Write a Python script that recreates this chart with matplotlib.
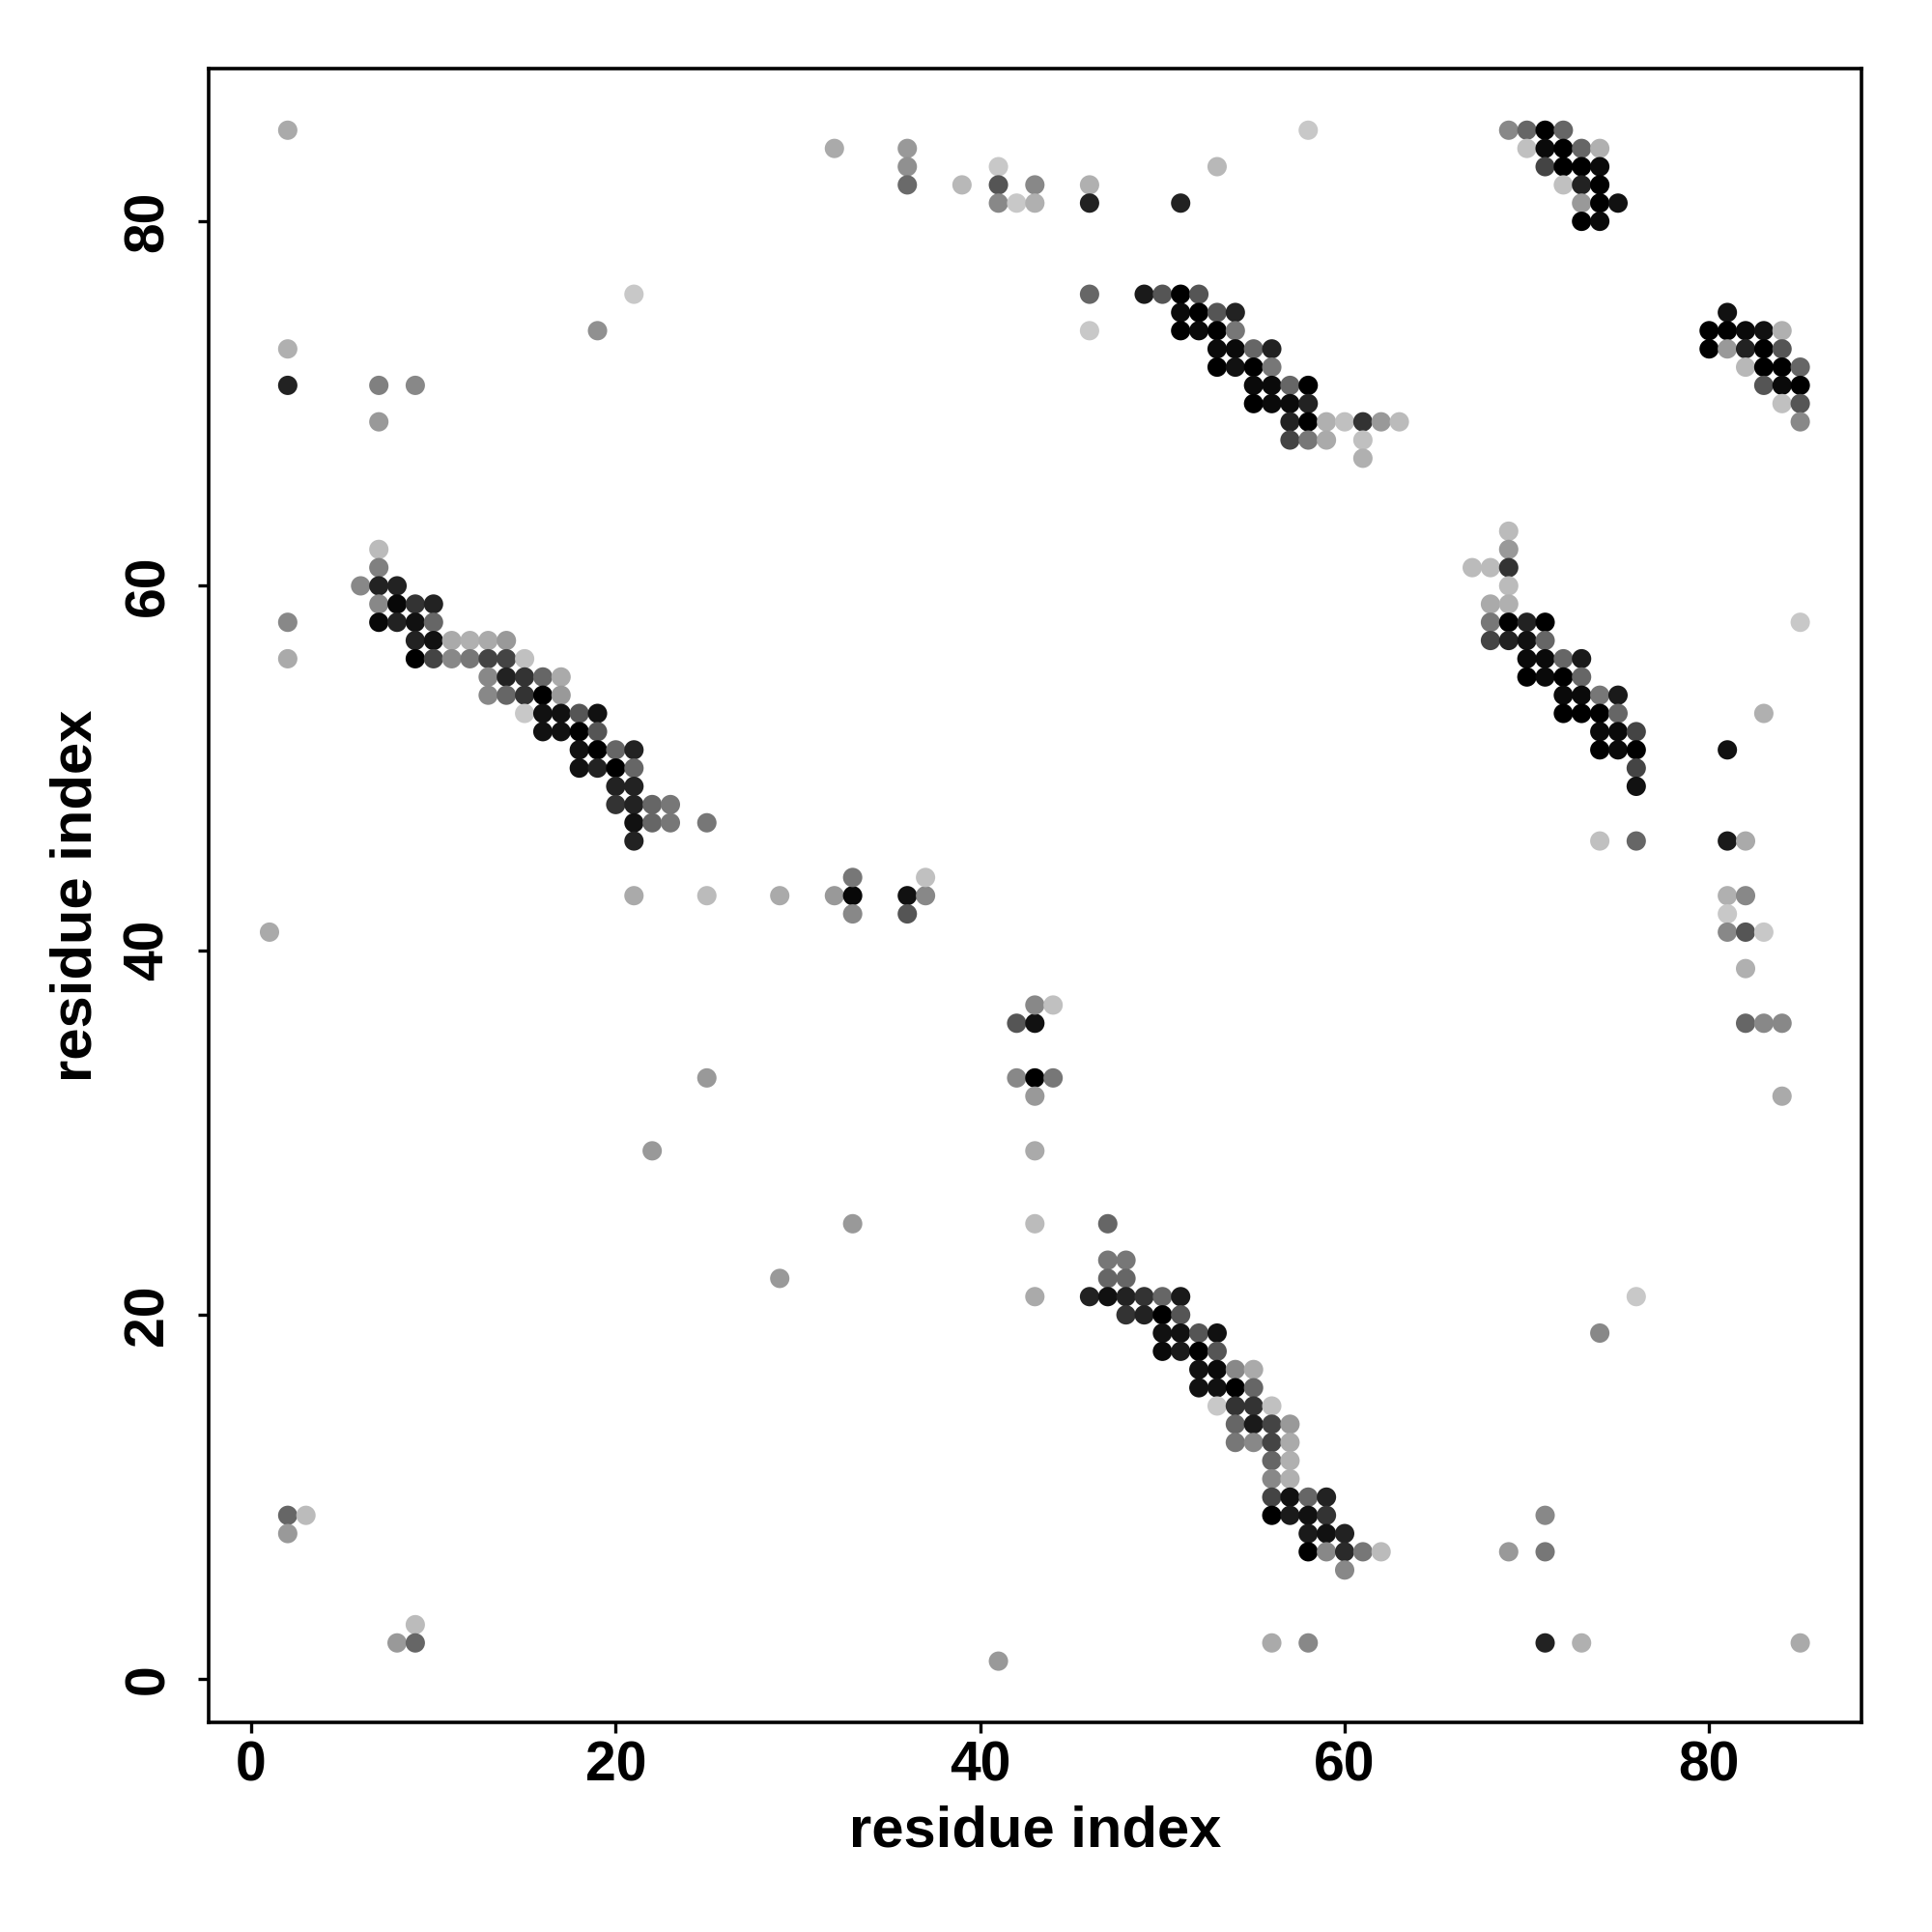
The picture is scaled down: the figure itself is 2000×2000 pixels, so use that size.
import matplotlib
matplotlib.use("Agg")
import matplotlib.pyplot as plt

# contactos: residuo i (eje x), residuo j (eje y), tono de gris (0 = negro, 255 = blanco)
res_i = [
    2, 2, 2, 7, 9, 7, 19, 21, 7, 7, 6, 7, 8, 7, 8, 9, 10,
    2, 7, 8, 9, 10, 9, 10, 11, 12, 13, 14,
    2, 9, 10, 11, 12, 13, 14, 15, 13, 14, 15, 16, 17,
    13, 14, 15, 16, 17, 15, 16, 17, 18, 19, 16, 17, 18, 19,
    18, 19, 20, 21, 18, 19, 20, 21, 20, 21, 20, 21, 22, 23,
    21, 22, 23, 25, 21, 1,
    21, 25, 29, 32, 33, 36, 37, 33, 37, 33, 36,
    42, 43, 43, 44, 42, 43, 44, 43, 25, 22, 43,
    33, 43, 29, 43, 41, 2, 3, 2, 9, 8, 9,
    47, 47, 48, 47, 48, 46, 47, 48, 49, 50, 51, 48, 49, 50, 51,
    50, 51, 52, 53, 50, 51, 52, 53, 52, 53, 54, 55, 52, 53, 54, 55,
    53, 54, 55, 56, 54, 55, 56, 57, 54, 55, 56, 57, 56, 57, 56, 57,
    56, 57, 58, 59, 56, 57, 58, 59, 58, 59, 60, 58, 59, 60, 61, 62,
    60, 56, 58,
    76, 74, 71, 69, 71, 71, 73, 85,
    69, 69, 67, 68, 69, 69, 68, 69, 68, 69, 70, 71, 85,
    68, 69, 70, 71, 70, 71, 72, 73, 70, 71, 72, 73, 72, 73, 74, 75,
    72, 73, 74, 75, 83, 74, 75, 76, 74, 75, 76, 81, 76, 76,
    74, 76, 81, 82, 81, 82, 81, 81, 82, 83, 82, 82, 83, 84, 84,
    69, 70, 71, 72, 70, 71, 72, 73, 74, 71, 72, 73, 74, 72, 73, 74,
    73, 74, 75, 73, 74,
    81, 80, 81, 82, 83, 84, 80, 81, 82, 83, 84, 82, 83, 84, 85,
    83, 84, 85, 84, 85, 85,
    32, 36, 36, 36, 39, 41, 41, 41, 42, 43, 43, 46, 46, 51, 53, 58,
    46, 46, 49, 50, 51, 52, 51, 52, 53, 54, 51, 52, 53, 54,
    53, 54, 55, 56, 53, 54, 55, 56, 55, 56, 57, 58, 55, 56, 57, 58,
    57, 58, 59, 60, 61, 62, 63, 57, 58, 59, 61, 61,
]

res_j = [
    85, 73, 71, 71, 71, 69, 74, 76, 62, 61, 60, 60, 60, 59, 59, 59, 59,
    58, 58, 58, 58, 58, 57, 57, 57, 57, 57, 57,
    56, 56, 56, 56, 56, 56, 56, 56, 55, 55, 55, 55, 55,
    54, 54, 54, 54, 54, 53, 53, 53, 53, 53, 52, 52, 52, 52,
    51, 51, 51, 51, 50, 50, 50, 50, 49, 49, 48, 48, 48, 48,
    47, 47, 47, 47, 46, 41,
    43, 43, 43, 43, 43, 43, 43, 44, 44, 42, 42,
    36, 36, 37, 37, 33, 33, 33, 32, 33, 29, 29,
    25, 25, 22, 21, 1, 9, 9, 8, 3, 2, 2,
    25, 23, 23, 22, 22, 21, 21, 21, 21, 21, 21, 20, 20, 20, 20,
    19, 19, 19, 19, 18, 18, 18, 18, 17, 17, 17, 17, 16, 16, 16, 16,
    15, 15, 15, 15, 14, 14, 14, 14, 13, 13, 13, 13, 12, 12, 11, 11,
    10, 10, 10, 10, 9, 9, 9, 9, 8, 8, 8, 7, 7, 7, 7, 7,
    6, 2, 2,
    21, 19, 9, 7, 7, 2, 2, 2,
    63, 62, 61, 61, 61, 60, 59, 59, 58, 58, 58, 58, 58,
    57, 57, 57, 57, 56, 56, 56, 56, 55, 55, 55, 55, 54, 54, 54, 54,
    53, 53, 53, 53, 53, 52, 52, 52, 51, 51, 51, 51, 50, 49,
    46, 46, 46, 46, 43, 43, 42, 41, 41, 41, 39, 36, 36, 36, 32,
    85, 85, 85, 85, 84, 84, 84, 84, 84, 83, 83, 83, 83, 82, 82, 82,
    81, 81, 81, 80, 80,
    75, 74, 74, 74, 74, 74, 73, 73, 73, 73, 73, 72, 72, 72, 72,
    71, 71, 71, 70, 70, 69,
    84, 84, 83, 82, 82, 83, 82, 81, 81, 82, 81, 82, 81, 81, 83, 85,
    76, 74, 76, 76, 76, 76, 75, 75, 75, 75, 74, 74, 74, 74,
    73, 73, 73, 73, 72, 72, 72, 72, 71, 71, 71, 71, 70, 70, 70, 70,
    69, 69, 69, 69, 69, 69, 69, 68, 68, 68, 68, 67,
]

shade = [
    170, 176, 34, 128, 136, 153, 144, 200, 187, 128, 136, 34, 34, 136, 8, 51, 34,
    136, 8, 34, 17, 102, 34, 17, 170, 176, 170, 153,
    170, 0, 68, 136, 119, 68, 68, 192, 136, 34, 51, 102, 170,
    136, 102, 51, 0, 153, 200, 17, 17, 85, 17, 17, 17, 0, 85,
    17, 0, 102, 34, 17, 34, 0, 102, 34, 34, 51, 34, 102, 119,
    17, 102, 119, 119, 34, 170,
    170, 187, 170, 153, 8, 17, 136, 119, 192, 136, 85,
    85, 17, 136, 192, 136, 0, 119, 153, 153, 153, 170,
    153, 187, 153, 170, 153, 102, 187, 153, 187, 153, 102,
    102, 119, 119, 102, 102, 34, 17, 34, 51, 102, 26, 51, 34, 0, 85,
    17, 17, 85, 17, 10, 26, 0, 85, 17, 10, 136, 170, 17, 17, 0, 102,
    200, 51, 51, 192, 102, 26, 68, 153, 119, 136, 68, 170, 102, 176, 136, 176,
    68, 17, 102, 34, 0, 26, 17, 51, 26, 17, 34, 0, 136, 42, 119, 187,
    136, 170, 136,
    200, 136, 136, 153, 119, 34, 176, 170,
    187, 153, 187, 187, 51, 187, 170, 176, 119, 0, 34, 0, 200,
    68, 34, 17, 102, 10, 10, 102, 26, 0, 10, 0, 102, 10, 10, 119, 26,
    0, 0, 0, 102, 176, 10, 10, 68, 0, 10, 0, 17, 68, 17,
    192, 102, 26, 170, 176, 136, 200, 136, 85, 200, 176, 102, 136, 136, 170,
    136, 102, 0, 102, 192, 10, 0, 102, 176, 68, 0, 0, 10, 192, 34, 0,
    153, 0, 17, 0, 10,
    17, 0, 0, 10, 17, 176, 0, 153, 34, 0, 85, 184, 0, 0, 102,
    85, 10, 0, 192, 85, 136,
    170, 153, 144, 106, 184, 200, 85, 136, 200, 136, 176, 176, 34, 34, 184, 200,
    102, 200, 26, 85, 0, 85, 10, 0, 85, 34, 0, 10, 0, 119,
    10, 10, 102, 34, 0, 17, 0, 119, 10, 10, 102, 0, 0, 10, 10, 34,
    34, 0, 176, 192, 51, 153, 187, 68, 119, 170, 192, 176,
]

colores = [str(g / 255) for g in shade]

plt.rcParams["font.family"] = ["Liberation Sans", "DejaVu Sans"]
plt.rcParams["font.weight"] = "bold"

fig = plt.figure(figsize=(10, 10), dpi=200)
ax = fig.add_axes([0.1078, 0.1085, 0.8557, 0.8558])

ax.scatter(res_i, res_j, s=52, c=colores, marker="o", linewidths=0)

# rango 1..85 con la expansion del 4 % como en R
ax.set_xlim(1 - 0.04 * 84, 85 + 0.04 * 84)
ax.set_ylim(1 - 0.04 * 84, 85 + 0.04 * 84)

ticks = [0, 20, 40, 60, 80]
ax.set_xticks(ticks)
ax.set_yticks(ticks)
ax.tick_params(axis="both", direction="out", length=4, width=1.2,
               labelsize=20.5)
ax.tick_params(axis="x", pad=2.5)
ax.tick_params(axis="y", pad=8.5)
for lab in ax.get_yticklabels():
    lab.set_rotation(90)
    lab.set_va("center")
for lab in ax.get_xticklabels() + ax.get_yticklabels():
    lab.set_fontweight("bold")

for sp in ax.spines.values():
    sp.set_linewidth(1.3)

ax.set_xlabel("residue index", fontsize=21.5, fontweight="bold", labelpad=5)
ax.set_ylabel("residue index", fontsize=21.5, fontweight="bold", labelpad=7.5)

fig.savefig("out.png", dpi=200, facecolor="white")
